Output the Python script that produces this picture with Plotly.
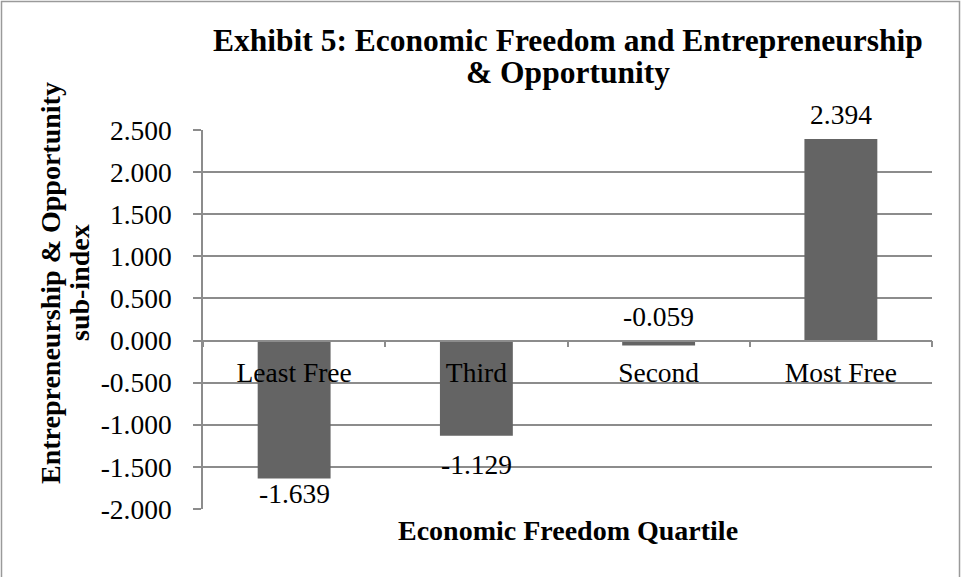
import plotly.graph_objects as go

# ---- data ----
categories = ["Least Free", "Third", "Second", "Most Free"]
values = [-1.639, -1.129, -0.059, 2.394]
value_labels = ["-1.639", "-1.129", "-0.059", "2.394"]
y_ticks = [-2.0, -1.5, -1.0, -0.5, 0.0, 0.5, 1.0, 1.5, 2.0, 2.5]
y_tick_labels = ["-2.000", "-1.500", "-1.000", "-0.500", "0.000",
                 "0.500", "1.000", "1.500", "2.000", "2.500"]
title_lines = ["Exhibit 5: Economic Freedom and Entrepreneurship", "& Opportunity"]
y_title_lines = ["Entrepreneurship & Opportunity", "sub-index"]
x_title = "Economic Freedom Quartile"

# ---- layout geometry ----
W, H = 961, 577
ML, MR, MT, MB = 203, 29, 130, 68
PW = W - ML - MR
PH = H - MT - MB
Y_MIN, Y_MAX = y_ticks[0], y_ticks[-1]


def px(x):
    return (x - ML) / PW


def py(y):
    return (H - MB - y) / PH


SERIF = "Liberation Serif"
GRID = "#8c8c8c"
BAR = "#646464"
LBL = 27.5

fig = go.Figure()
fig.add_trace(go.Bar(
    x=categories, y=values, width=0.4,
    marker=dict(color=BAR, line=dict(width=0)),
    hoverinfo="skip",
))

# data labels (Excel-like placement)
label_shift = [-15, -29, 29, 24]
for c, v, t, s in zip(categories, values, value_labels, label_shift):
    fig.add_annotation(x=c, y=v, xref="x", yref="y", text=t, showarrow=False,
                       yshift=s, yanchor="middle",
                       font=dict(family=SERIF, size=LBL, color="#000000"))

# title, two lines
for txt, ypix in zip(title_lines, [41, 72]):
    fig.add_annotation(x=px(567.5), y=py(ypix), xref="paper", yref="paper",
                       text=txt, showarrow=False, xanchor="center", yanchor="middle",
                       font=dict(family=SERIF, size=31.5, color="#000000", weight="bold"))

# y-axis title, two lines (rotated)
for txt, xpix in zip(y_title_lines, [50, 79]):
    fig.add_annotation(x=px(xpix), y=py(283), xref="paper", yref="paper",
                       text=txt, showarrow=False, textangle=-90,
                       xanchor="center", yanchor="middle",
                       font=dict(family=SERIF, size=28, color="#000000", weight="bold"))

# x-axis title
fig.add_annotation(x=px(567.5), y=py(530), xref="paper", yref="paper",
                   text=x_title, showarrow=False, xanchor="center", yanchor="middle",
                   font=dict(family=SERIF, size=28, color="#000000", weight="bold"))

# chart border
fig.add_shape(type="rect", xref="paper", yref="paper",
              x0=px(1.5), x1=px(959.5), y0=py(590), y1=py(1.5),
              line=dict(color="#9a9a9a", width=1.5), fillcolor="rgba(0,0,0,0)")

zero_pos = (0 - Y_MIN) / (Y_MAX - Y_MIN)

fig.update_layout(
    width=W, height=H,
    margin=dict(l=ML, r=MR, t=MT, b=MB, pad=0),
    paper_bgcolor="#ffffff", plot_bgcolor="#ffffff",
    showlegend=False,
    bargap=0.6,
    xaxis=dict(
        type="category", anchor="free", position=zero_pos,
        showline=True, linecolor=GRID, linewidth=1.5,
        showgrid=False, zeroline=False,
        ticks="outside", ticklen=6, tickcolor=GRID, tickwidth=1.5,
        tickson="boundaries", ticklabelstandoff=8,
        tickfont=dict(family=SERIF, size=LBL, color="#000000"),
        range=[-0.5, 3.5], fixedrange=True,
    ),
    yaxis=dict(
        range=[Y_MIN, Y_MAX], tickvals=y_ticks, ticktext=y_tick_labels,
        showline=True, linecolor=GRID, linewidth=1.5,
        showgrid=True, gridcolor=GRID, gridwidth=1.5,
        zeroline=False,
        ticks="outside", ticklen=8, tickcolor=GRID, tickwidth=1.5,
        ticklabelstandoff=16,
        tickfont=dict(family=SERIF, size=LBL, color="#000000"),
        fixedrange=True,
    ),
)

fig.write_html("out.html")
